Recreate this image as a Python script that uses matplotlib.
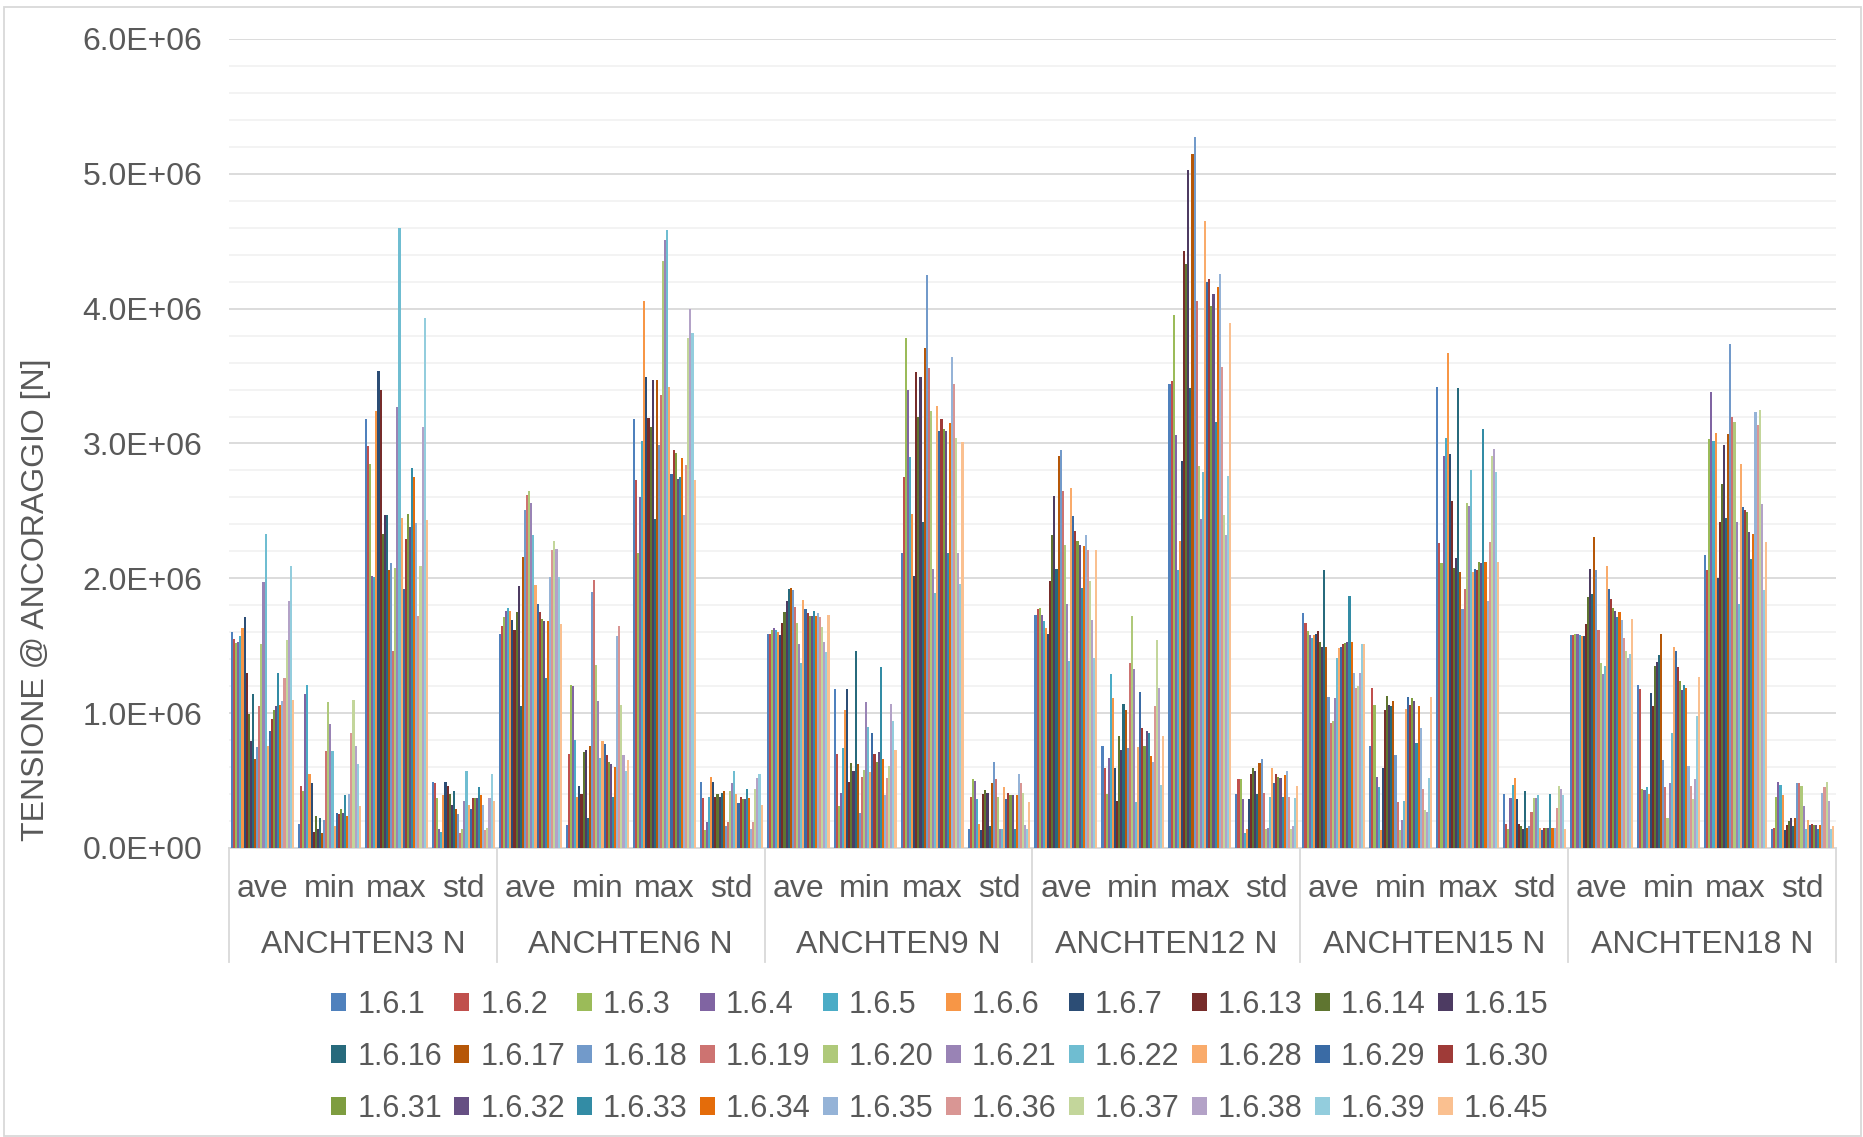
import numpy as np
import matplotlib
matplotlib.use("Agg")
import matplotlib.pyplot as plt
from matplotlib.patches import Rectangle
from matplotlib.ticker import MultipleLocator, FuncFormatter

plt.rcParams['font.family'] = ['Liberation Sans', 'DejaVu Sans']

# run ids (legend order)
series = ['1.6.1', '1.6.2', '1.6.3', '1.6.4', '1.6.5', '1.6.6', '1.6.7', '1.6.13', '1.6.14', '1.6.15',
          '1.6.16', '1.6.17', '1.6.18', '1.6.19', '1.6.20', '1.6.21', '1.6.22', '1.6.28', '1.6.29', '1.6.30',
          '1.6.31', '1.6.32', '1.6.33', '1.6.34', '1.6.35', '1.6.36', '1.6.37', '1.6.38', '1.6.39', '1.6.45']

colors = ['#4F81BD', '#C0504D', '#9BBB59', '#8064A2', '#4BACC6', '#F79646',
          '#2C4D75', '#772C2A', '#5F7530', '#4D3B62', '#276A7C', '#B65708',
          '#729ACA', '#CD7371', '#AFC97A', '#9983B5', '#6FBDD1', '#F9AB6B',
          '#3A6BA5', '#9F3B38', '#7E9D40', '#664F83', '#338CA5', '#E46C0A',
          '#95B3D7', '#D99694', '#C3D69B', '#B3A2C7', '#93CDDD', '#FAC090']

anchors = ['ANCHTEN3 N', 'ANCHTEN6 N', 'ANCHTEN9 N', 'ANCHTEN12 N', 'ANCHTEN15 N', 'ANCHTEN18 N']
stats = ['ave', 'min', 'max', 'std']

# anchor tension [MN], one value per run
ave_3 = [1.60, 1.55, 1.52, 1.53, 1.57, 1.63, 1.71, 1.30, 0.99, 0.79, 1.14, 0.66, 0.75, 1.05, 1.51,
         1.97, 2.33, 0.76, 0.87, 0.96, 1.02, 1.05, 1.30, 1.06, 1.09, 1.26, 1.54, 1.83, 2.09, 1.10]
min_3 = [0.18, 0.46, 0.42, 1.14, 1.21, 0.55, 0.48, 0.12, 0.24, 0.14, 0.22, 0.11, 0.21, 0.72, 1.08,
         0.92, 0.72, 0.16, 0.26, 0.25, 0.29, 0.26, 0.39, 0.24, 0.40, 0.85, 1.10, 0.76, 0.62, 0.31]
max_3 = [3.18, 2.98, 2.85, 2.02, 2.01, 3.24, 3.54, 3.40, 2.33, 2.47, 2.47, 2.06, 2.11, 1.46, 2.08,
         3.27, 4.60, 2.45, 1.92, 2.29, 2.48, 2.38, 2.82, 2.75, 2.41, 1.72, 2.09, 3.12, 3.93, 2.43]
std_3 = [0.49, 0.48, 0.37, 0.14, 0.12, 0.39, 0.49, 0.46, 0.40, 0.32, 0.42, 0.29, 0.25, 0.11, 0.14,
         0.35, 0.57, 0.32, 0.29, 0.37, 0.37, 0.37, 0.45, 0.39, 0.32, 0.13, 0.15, 0.37, 0.55, 0.35]

ave_6 = [1.59, 1.65, 1.71, 1.76, 1.78, 1.76, 1.69, 1.62, 1.75, 1.94, 1.05, 2.16, 2.51, 2.62, 2.65,
         2.56, 2.32, 1.95, 1.81, 1.75, 1.70, 1.68, 1.26, 1.68, 2.01, 2.21, 2.28, 2.22, 2.01, 1.66]
min_6 = [0.17, 0.70, 1.21, 1.20, 0.80, 0.38, 0.46, 0.40, 0.71, 0.73, 0.22, 0.76, 1.90, 1.99, 1.36,
         1.09, 0.67, 0.79, 0.77, 0.69, 0.64, 0.62, 0.38, 0.60, 1.57, 1.65, 1.06, 0.69, 0.57, 0.65]
max_6 = [3.18, 2.73, 2.19, 2.60, 3.02, 4.06, 3.49, 3.19, 3.12, 3.47, 2.44, 3.47, 2.99, 3.36, 4.35,
         4.51, 4.58, 3.42, 2.77, 2.95, 2.93, 2.74, 2.75, 2.89, 2.47, 2.84, 3.78, 4.00, 3.82, 2.73]
std_6 = [0.49, 0.37, 0.13, 0.19, 0.38, 0.53, 0.49, 0.38, 0.40, 0.38, 0.41, 0.42, 0.16, 0.19, 0.42,
         0.48, 0.57, 0.40, 0.33, 0.38, 0.36, 0.36, 0.44, 0.37, 0.14, 0.19, 0.44, 0.52, 0.55, 0.32]

ave_9 = [1.59, 1.59, 1.62, 1.63, 1.62, 1.60, 1.58, 1.67, 1.75, 1.83, 1.92, 1.93, 1.91, 1.79, 1.67,
         1.51, 1.37, 1.84, 1.77, 1.74, 1.72, 1.72, 1.76, 1.72, 1.74, 1.71, 1.64, 1.53, 1.45, 1.73]
min_9 = [1.18, 0.70, 0.31, 0.41, 0.74, 1.02, 1.18, 0.49, 0.63, 0.57, 1.46, 0.62, 0.26, 0.53, 0.58,
         1.08, 0.90, 0.56, 0.85, 0.70, 0.64, 0.71, 1.34, 0.66, 0.39, 0.52, 0.61, 1.07, 0.94, 0.73]
max_9 = [2.19, 2.75, 3.78, 3.40, 2.90, 2.48, 2.02, 3.53, 3.20, 3.49, 2.42, 3.71, 4.25, 3.56, 3.24,
         2.07, 1.89, 3.28, 3.09, 3.18, 3.11, 3.09, 2.19, 3.15, 3.64, 3.44, 3.04, 2.19, 1.96, 3.01]
std_9 = [0.14, 0.38, 0.51, 0.50, 0.36, 0.18, 0.13, 0.40, 0.43, 0.41, 0.16, 0.48, 0.64, 0.51, 0.38,
         0.14, 0.14, 0.45, 0.36, 0.41, 0.39, 0.39, 0.14, 0.39, 0.55, 0.48, 0.41, 0.17, 0.14, 0.34]

ave_12 = [1.73, 1.77, 1.78, 1.73, 1.68, 1.63, 1.59, 1.98, 2.32, 2.61, 2.07, 2.91, 2.95, 2.65, 2.25,
          1.81, 1.39, 2.67, 2.46, 2.35, 2.28, 2.25, 1.93, 2.24, 2.32, 2.21, 1.98, 1.69, 1.41, 2.21]
min_12 = [0.76, 0.59, 0.40, 0.67, 1.29, 1.11, 0.59, 0.35, 0.83, 0.73, 1.07, 1.02, 0.74, 1.37, 1.72,
          1.33, 0.34, 0.75, 1.16, 0.89, 0.76, 0.87, 0.85, 0.68, 0.64, 1.05, 1.54, 1.19, 0.47, 0.83]
max_12 = [3.44, 3.46, 3.95, 3.06, 2.06, 2.28, 2.87, 4.43, 4.33, 5.03, 3.41, 5.15, 5.27, 4.06, 2.83,
          2.44, 2.79, 4.65, 4.20, 4.22, 4.02, 4.11, 3.16, 4.16, 4.26, 3.57, 2.47, 2.32, 2.76, 3.89]
std_12 = [0.40, 0.51, 0.51, 0.36, 0.11, 0.14, 0.36, 0.55, 0.59, 0.57, 0.40, 0.63, 0.66, 0.41, 0.14,
          0.15, 0.38, 0.59, 0.48, 0.55, 0.53, 0.52, 0.38, 0.54, 0.57, 0.38, 0.14, 0.16, 0.37, 0.46]

ave_15 = [1.74, 1.67, 1.61, 1.58, 1.56, 1.58, 1.59, 1.61, 1.53, 1.49, 2.06, 1.49, 1.12, 0.93, 0.94,
          1.11, 1.41, 1.48, 1.49, 1.51, 1.52, 1.53, 1.87, 1.53, 1.30, 1.19, 1.20, 1.30, 1.51, 1.51]
min_15 = [0.76, 1.19, 1.06, 0.53, 0.45, 0.13, 0.59, 1.02, 1.13, 1.06, 1.05, 1.09, 0.69, 0.34, 0.13,
          0.21, 0.35, 1.03, 1.12, 1.06, 1.11, 1.09, 0.78, 1.05, 0.89, 0.44, 0.28, 0.27, 0.52, 1.12]
max_15 = [3.42, 2.26, 2.11, 2.91, 3.04, 3.67, 2.92, 2.57, 2.08, 2.15, 3.41, 2.05, 1.77, 1.92, 2.56,
          2.54, 2.80, 2.05, 2.07, 2.06, 2.12, 2.11, 3.11, 2.12, 1.83, 2.27, 2.91, 2.96, 2.79, 2.12]
std_15 = [0.40, 0.18, 0.14, 0.37, 0.47, 0.52, 0.36, 0.18, 0.16, 0.14, 0.42, 0.15, 0.16, 0.27, 0.37,
          0.37, 0.39, 0.15, 0.13, 0.15, 0.15, 0.15, 0.40, 0.15, 0.15, 0.30, 0.46, 0.44, 0.39, 0.14]

ave_18 = [1.58, 1.58, 1.59, 1.59, 1.58, 1.57, 1.57, 1.66, 1.86, 2.07, 1.88, 2.31, 2.06, 1.62, 1.37,
          1.29, 1.35, 2.09, 1.92, 1.85, 1.78, 1.76, 1.71, 1.75, 1.69, 1.56, 1.46, 1.41, 1.44, 1.70]
min_18 = [1.21, 1.18, 0.44, 0.43, 0.45, 0.40, 1.15, 1.05, 1.35, 1.38, 1.43, 1.59, 0.65, 0.45, 0.22,
          0.48, 0.85, 1.49, 1.46, 1.34, 1.24, 1.17, 1.21, 1.19, 0.61, 0.46, 0.36, 0.51, 0.98, 1.27]
max_18 = [2.17, 2.06, 3.03, 3.38, 3.02, 3.08, 2.00, 2.42, 2.70, 2.99, 2.45, 3.07, 3.74, 3.20, 3.16,
          2.42, 1.81, 2.85, 2.53, 2.51, 2.49, 2.34, 2.14, 2.33, 3.23, 3.14, 3.25, 2.55, 1.91, 2.27]
std_18 = [0.14, 0.15, 0.38, 0.49, 0.47, 0.39, 0.13, 0.17, 0.20, 0.22, 0.16, 0.22, 0.48, 0.48, 0.46,
          0.31, 0.14, 0.21, 0.17, 0.18, 0.17, 0.17, 0.14, 0.17, 0.41, 0.45, 0.49, 0.35, 0.14, 0.16]

# categories x runs, in N
data = np.array([ave_3, min_3, max_3, std_3,
                 ave_6, min_6, max_6, std_6,
                 ave_9, min_9, max_9, std_9,
                 ave_12, min_12, max_12, std_12,
                 ave_15, min_15, max_15, std_15,
                 ave_18, min_18, max_18, std_18]) * 1e6

txt_col = '#595959'
txt_size = 23

fig = plt.figure(figsize=(18.63, 11.37), dpi=100)
ax = fig.add_axes([0.1229, 0.2542, 0.8626, 0.7115])

n_cat, n_ser = data.shape
x = np.arange(n_cat)
w = 0.94 / n_ser
handles = []
for i in range(n_ser):
    b = ax.bar(x + (i - (n_ser - 1) / 2) * w, data[:, i], width=w, color=colors[i],
               label=series[i], linewidth=0, zorder=3)
    handles.append(b)

ax.set_xlim(-0.5, n_cat - 0.5)
ax.set_ylim(0, 6e6)
ax.yaxis.set_major_locator(MultipleLocator(1e6))
ax.yaxis.set_minor_locator(MultipleLocator(2e5))
ax.yaxis.set_major_formatter(FuncFormatter(lambda v, p: '%.1E' % v))
ax.grid(axis='y', which='major', color='#D9D9D9', linewidth=1.3, zorder=0)
ax.grid(axis='y', which='minor', color='#F2F2F2', linewidth=1.3, zorder=0)
ax.tick_params(axis='y', which='both', length=0, labelsize=txt_size, labelcolor=txt_col, pad=19)
for s in ['top', 'right', 'left']:
    ax.spines[s].set_visible(False)
ax.spines['bottom'].set_color('#D9D9D9')
ax.spines['bottom'].set_linewidth(1.3)

# two-level category axis
ax.set_xticks(x)
ax.set_xticklabels(stats * len(anchors), fontsize=txt_size, color=txt_col)
ax.tick_params(axis='x', length=0, pad=19)
xt = ax.get_xaxis_transform()
for j, name in enumerate(anchors):
    ax.text(4 * j + 1.5, -0.12, name, transform=xt, ha='center', va='center',
            fontsize=txt_size, color=txt_col)
for k in range(len(anchors) + 1):
    ax.plot([4 * k - 0.5, 4 * k - 0.5], [0, -0.141], transform=xt, color='#D9D9D9',
            linewidth=1.3, clip_on=False)

ax.set_ylabel('TENSIONE @ ANCORAGGIO [N]', fontsize=txt_size, color=txt_col)
ax.yaxis.set_label_coords(-0.111, 0.307)

# legend filled row by row
order = [r * 10 + c for c in range(10) for r in range(3)]
fig.legend([handles[k] for k in order], [series[k] for k in order], ncol=10,
           loc='center', bbox_to_anchor=(0.5045, 0.0705), frameon=False,
           fontsize=22, labelcolor=txt_col, handlelength=0.5, handleheight=0.5,
           handletextpad=0.35, columnspacing=0.4, labelspacing=0.72)

fig.patches.append(Rectangle((0.002, 0.001), 0.997, 0.993, transform=fig.transFigure,
                             fill=False, edgecolor='#D9D9D9', linewidth=1.3))

plt.savefig('out.png', dpi=100)
